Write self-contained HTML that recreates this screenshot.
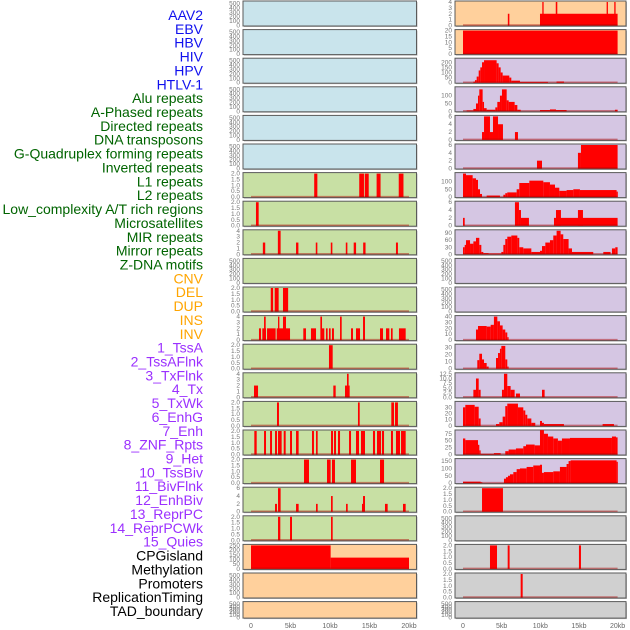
<!DOCTYPE html>
<html><head><meta charset="utf-8"><style>
body{margin:0;background:#fff;}
svg{display:block;font-family:"Liberation Sans",sans-serif;}
</style></head><body>
<svg id="chart" width="630" height="630" viewBox="0 0 630 630" xmlns="http://www.w3.org/2000/svg"></svg>
<script>
const trackLabels = ["AAV2","EBV","HBV","HIV","HPV","HTLV-1","Alu repeats","A-Phased repeats","Directed repeats","DNA transposons","G-Quadruplex forming repeats","Inverted repeats","L1 repeats","L2 repeats","Low_complexity A/T rich regions","Microsatellites","MIR repeats","Mirror repeats","Z-DNA motifs","CNV","DEL","DUP","INS","INV","1_TssA","2_TssAFlnk","3_TxFlnk","4_Tx","5_TxWk","6_EnhG","7_Enh","8_ZNF_Rpts","9_Het","10_TssBiv","11_BivFlnk","12_EnhBiv","13_ReprPC","14_ReprPCWk","15_Quies","CPGisland","Methylation","Promoters","ReplicationTiming","TAD_boundary"];
const labelColors = ["#1010ee","#006400","#ffa500","#9b30ff","#000000"];
const labelGroupSizes = [6,13,5,15,5];
const xTickValues = [0,5,10,15,20];
const xTickLabels = ["0","5kb","10kb","15kb","20kb"];
const leftBg = ["#c9e4ec","#c9e4ec","#c9e4ec","#c9e4ec","#c9e4ec","#c9e4ec","#c8e0a4","#c8e0a4","#c8e0a4","#c8e0a4","#c8e0a4","#c8e0a4","#c8e0a4","#c8e0a4","#c8e0a4","#c8e0a4","#c8e0a4","#c8e0a4","#c8e0a4","#ffd09c","#ffd09c","#ffd09c"];
const rightBg = ["#ffd09c","#ffd09c","#d5c6e3","#d5c6e3","#d5c6e3","#d5c6e3","#d5c6e3","#d5c6e3","#d5c6e3","#d5c6e3","#d5c6e3","#d5c6e3","#d5c6e3","#d5c6e3","#d5c6e3","#d5c6e3","#d5c6e3","#d0d0d0","#d0d0d0","#d0d0d0","#d0d0d0","#d0d0d0"];
const E=[0,100,200,300,400,500], T2=["0.0","0.5","1.0","1.5","2.0"];
const leftTicks = [E,E,E,E,E,E,T2,T2,[0,1,2,3,4],E,T2,[0,1,2,3,4],T2,[0,1,2,3,4],T2,T2,T2,[0,2,4,6],T2,[0,50,100,150,200,250],E,E];
const rightTicks = [[0,1,2,3,4],[0,5,10,15,20],[0,50,100,150,200],[0,50,100],[0,2,4,6],[0,2,4,6],[0,50,100],[0,2,4,6],[0,30,60,90],E,E,[0,10,20,30,40],[0,10,20,30],["0.0","2.5","5.0","7.5","10.0","12.5"],[0,10,20,30],[0,25,50,75],[0,50,100,150],T2,E,T2,T2,E];
const leftMax = [500,500,500,500,500,500,2,2,4,500,2,4,2,4,2,2,2,6,2,250,500,500];
const rightMax = [4,20,230,150,6,6,150,6,100,500,500,40,33,12.5,38,85,160,2,500,2,2,500];
const leftSeries = [[],[],[],[],[],[],
[[8.0,8.4,2],[13.7,14.3,2],[14.4,14.9,2],[15.9,16.4,2],[18.7,19.3,2]],
[[0.63,0.97,2]],
[[1.5,1.8,2],[3.4,3.75,4],[5.7,6.0,2],[8.2,8.4,2],[10.1,10.3,2],[12.0,12.2,2],[13.0,13.3,2],[14.2,14.5,2],[18.35,18.6,2]],
[],
[[2.5,2.8,2],[3.0,3.5,2],[4.05,4.7,2]],
[[1.01,1.27,2],[1.43,1.9,2],[1.65,1.86,4],[2.03,3.12,2],[3.25,4.94,2],[3.42,3.59,4],[4.05,4.43,4],[6.62,6.96,2],[7.59,8.23,2],[8.78,8.99,4],[8.99,9.28,2],[9.49,9.7,2],[9.87,10.08,2],[10.25,10.5,2],[11.27,11.48,4],[12.66,12.91,2],[13.29,13.8,2],[14.18,14.43,4],[16.33,16.71,2],[17.09,17.51,2],[17.72,17.93,2],[18.73,19.58,2]],
[[9.87,10.34,2]],
[[0.38,0.89,2],[10.42,10.72,2],[11.9,12.49,2],[12.15,12.36,4]],
[[3.29,3.54,2],[13.54,13.76,2],[17.76,18.1,2],[18.23,18.6,2]],
[[0.42,0.72,2],[1.65,1.9,2],[2.41,2.66,2],[3.04,3.29,2],[3.42,3.88,2],[4.14,4.39,2],[4.94,5.19,2],[5.7,6.03,2],[7.72,7.97,2],[8.23,8.44,2],[10.13,10.38,2],[10.51,10.76,2],[11.01,11.27,2],[12.41,12.66,2],[13.29,13.67,2],[13.92,14.43,2],[15.44,15.7,2],[15.95,16.46,2],[16.58,16.84,2],[17.72,17.97,2],[18.35,18.86,2],[18.99,19.58,2]],
[[6.71,7.34,2],[9.62,10.08,2],[10.25,10.63,2],[12.66,13.29,2],[16.33,16.84,2]],
[[3.04,3.29,2],[3.42,3.75,6],[5.7,6.03,2],[8.23,8.44,2],[10.13,10.34,4],[12.03,12.24,2],[14.05,14.22,2],[14.18,14.43,4],[16.96,17.3,2],[19.24,19.58,2]],
[[3.42,3.71,2],[4.94,5.19,2],[10.13,10.34,2]],
[[0,10.08,250],[10.08,20,120]],
[],[]];
const rightSeries = [
[[5.8,6.0,2],[9.96,20,2],[10.26,10.43,4],[12.0,12.2,4],[18.58,18.75,4],[19.57,19.74,4]],
[[0,20,20]],
[[1.34,1.55,10],[1.55,1.77,25],[1.77,2.03,60],[2.03,2.24,120],[2.24,2.46,150],[2.46,2.72,200],[2.72,4.35,220],[4.35,4.61,190],[4.61,4.87,150],[4.87,5.13,100],[5.13,5.99,70],[5.99,6.25,50],[6.25,7.37,20],[7.37,10.99,8],[12.1,13.06,12]],
[[0.47,1.34,5],[1.34,1.68,15],[1.68,1.94,50],[1.94,2.11,100],[2.11,2.54,140],[2.54,2.72,60],[2.72,3.06,20],[3.06,4.18,10],[4.18,4.44,25],[4.44,4.78,60],[4.78,5.04,100],[5.04,5.65,140],[5.65,5.91,70],[5.91,6.68,60],[6.68,7.03,40],[7.03,7.46,10],[9.96,11.25,8],[11.25,12.03,12],[12.03,13.4,8],[19.66,20,10]],
[[2.46,2.72,2],[2.72,3.49,6],[3.49,3.88,2],[3.88,4.53,6],[4.53,5.17,4],[6.72,7.11,2]],
[[9.57,10.22,2],[14.87,15.26,4],[15.26,20,6]],
[[0,0.39,150],[0.39,1.25,140],[1.25,1.68,120],[1.68,1.94,110],[1.94,2.2,50],[2.2,2.46,20],[3.06,4.78,10],[5.22,5.47,15],[5.47,5.73,25],[5.73,6.94,30],[6.94,7.28,50],[7.28,8.58,90],[8.58,10.39,105],[10.39,11.25,95],[11.25,11.9,80],[11.9,12.46,60],[12.46,13.4,40],[13.4,14.27,45],[14.27,15.13,50],[15.13,19.87,45],[19.87,20,35]],
[[0,0.22,2],[6.72,7.24,6],[7.24,7.5,4],[7.5,8.53,2],[11.77,20,2],[12.03,12.67,4],[14.87,15.52,4]],
[[0,0.22,30],[0.22,0.39,40],[0.39,0.91,60],[0.91,1.34,45],[1.34,1.68,55],[1.68,2.11,70],[2.11,2.37,40],[2.37,2.63,10],[2.63,3.32,5],[3.32,4.96,3],[4.96,5.22,10],[5.22,5.47,40],[5.47,5.73,65],[5.73,6.25,75],[6.25,7.03,80],[7.03,7.28,70],[7.28,7.8,30],[7.8,8.84,25],[8.84,9.96,10],[9.96,10.22,15],[10.22,10.65,35],[10.65,11.25,50],[11.25,11.68,60],[11.68,12.11,80],[12.11,12.63,100],[12.63,12.97,85],[12.97,13.66,65],[13.66,14.1,25],[14.1,16.85,10],[18.15,19.09,10],[19.27,19.7,25],[19.7,20,30]],
[],[],
[[1.68,1.94,18],[1.94,3.06,24],[3.06,3.58,23],[3.58,4.0,26],[4.0,4.44,40],[4.44,4.78,32],[4.78,5.13,25],[5.13,5.47,18],[5.47,5.73,13],[5.73,5.9,5]],
[[1.85,2.11,12],[2.11,2.46,21],[2.46,2.72,13],[2.72,3.06,8],[3.06,3.32,3],[4.27,4.53,15],[4.53,4.78,22],[4.78,4.96,28],[4.96,5.47,32],[5.47,5.73,13],[5.73,5.9,3]],
[[1.34,1.68,4],[1.68,2.03,10],[2.03,2.28,4],[5.04,5.3,4],[5.3,5.73,12.5],[5.73,6.16,6],[6.16,6.68,4],[6.85,7.37,2],[10.22,10.56,4]],
[[0,0.3,30],[0.3,1.51,34],[1.51,2.03,31],[2.03,2.28,12],[4.27,4.7,3],[4.7,5.13,6],[5.13,5.47,15],[5.47,5.73,32],[5.73,7.11,36],[7.11,7.8,30],[7.8,8.06,25],[8.06,8.32,18],[8.32,8.84,12],[8.84,9.35,5],[9.96,10.22,8],[10.22,10.47,5],[10.47,13.06,3],[18.06,19.53,3]],
[[0,0.3,58],[0.3,1.94,52],[1.94,2.11,35],[2.11,2.28,15],[2.28,4.0,2],[4.0,4.87,5],[5.47,5.9,12],[5.9,6.85,18],[6.85,7.8,22],[7.8,8.15,30],[8.15,9.27,36],[9.27,9.96,33],[9.96,10.47,88],[10.47,10.99,75],[10.99,11.68,65],[11.68,12.28,58],[12.28,12.8,50],[12.8,13.84,58],[13.84,19.27,60],[19.27,19.79,65],[19.79,20,62]],
[[0,2.28,10],[2.28,2.5,5],[5.3,5.56,30],[5.56,5.82,40],[5.82,6.08,50],[6.08,6.51,60],[6.51,6.94,75],[6.94,7.37,95],[7.37,8.23,100],[8.23,9.09,110],[9.09,9.96,120],[9.96,10.22,125],[10.22,10.47,70],[10.47,11.68,75],[11.68,12.54,80],[12.54,13.4,110],[13.4,13.66,130],[13.66,13.92,150],[13.92,19.87,155],[19.87,20,145]],
[[2.46,5.17,2]],
[],
[[3.49,4.4,2],[5.78,6.03,2],[15.0,15.26,2]],
[[7.46,7.72,2]],
[]];

const NS="http://www.w3.org/2000/svg";
const svg=document.getElementById('chart');
function mk(tag,attrs,parent){const e=document.createElementNS(NS,tag);for(const k in attrs)e.setAttribute(k,attrs[k]);(parent||svg).appendChild(e);return e;}
const rowTop=i=>1+i*28.6, rowHt=i=>(i===21?16.5:25);
const cols=[{x0:243,x1:416.5,dx:251,sc:7.9,bg:leftBg,ticks:leftTicks,max:leftMax,series:leftSeries,tx:240,name:'left'},
            {x0:455,x1:626,dx:463,sc:7.73,bg:rightBg,ticks:rightTicks,max:rightMax,series:rightSeries,tx:452,name:'right'}];
let k=0;
labelGroupSizes.forEach((n,g)=>{for(let j=0;j<n;j++){const t=mk('text',{x:203,y:15+k*13.86+5,'text-anchor':'end','font-size':'14',fill:labelColors[g]});t.textContent=trackLabels[k];


k++;}});
cols.forEach(c=>{
  const xs=kb=>c.dx+kb*c.sc;
  for(let i=0;i<22;i++){
    const top=rowTop(i), rowH=rowHt(i), g=mk('g',{});
    
    
    mk('rect',{x:c.x0+1,y:top+1,width:c.x1-c.x0,height:rowH,fill:'#bbb'},g);
    mk('rect',{x:c.x0,y:top,width:c.x1-c.x0,height:rowH,fill:c.bg[i],stroke:'#5a5a5a','stroke-width':1},g);
    const max=c.max[i], ys=v=>top+rowH-0.5-(v/max)*(rowH-1.5);
    const ticks=c.ticks[i];
    ticks.forEach((tv,j)=>{const v=parseFloat(tv);const yy=ticks===E?top+rowH-0.5-(j/5)*(rowH-3):ys(v);
      const t=mk('text',{x:c.tx,y:yy+2,'text-anchor':'end','font-size':'6.5',fill:'#777'},g);t.textContent=tv;
      
      });
    const s=c.series[i];
    if(s.length){
      s.forEach(seg=>{const r=mk('rect',{x:xs(seg[0]),y:ys(seg[2]),width:Math.max(1.2,xs(seg[1])-xs(seg[0])),height:ys(0)-ys(seg[2]),fill:'#ff0000'},g);
        
        });
      mk('line',{x1:xs(0),x2:xs(20),y1:ys(0)-0.5,y2:ys(0)-0.5,stroke:'rgba(170,0,0,0.45)','stroke-width':1.5},g);
    }
  }
  xTickValues.forEach((v,j)=>{const t=mk('text',{x:xs(v),y:628,'text-anchor':'middle','font-size':'7',fill:'#666'});t.textContent=xTickLabels[j];
    
    });
});
</script>
</body></html>
